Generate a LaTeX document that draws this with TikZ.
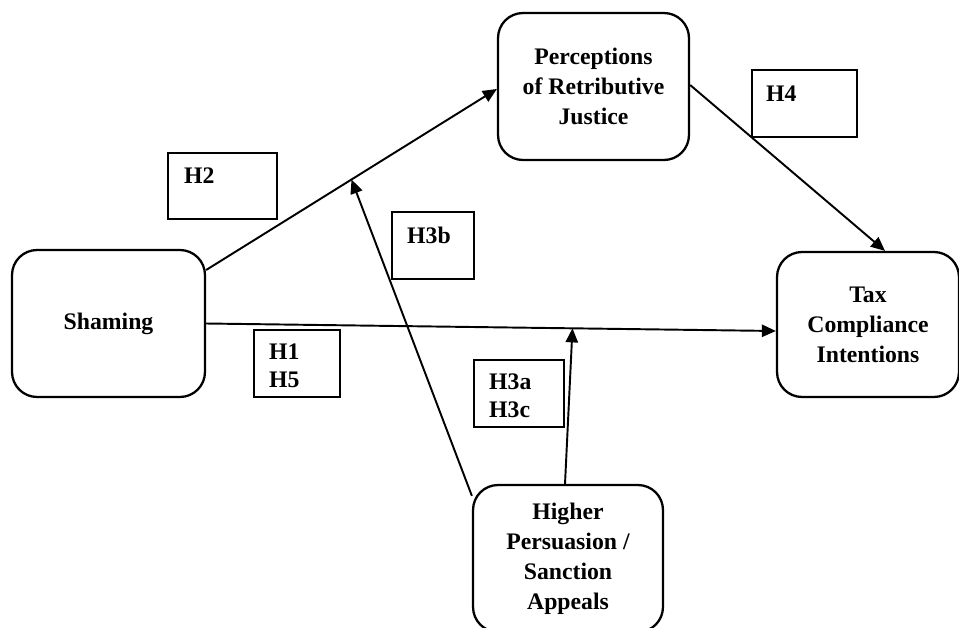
\documentclass[tikz,border=0pt]{standalone}
\usepackage{fontspec}
\setmainfont{Liberation Serif}
\usepackage{tikz}
\usetikzlibrary{arrows.meta, positioning}
\tikzstyle{construct} = [rectangle, rounded corners=0.5cm, line width=1.3pt, draw=black, align=center, font=\bfseries\fontsize{13.5}{17}\selectfont]
\tikzstyle{hypbox} = [rectangle, line width=1.3pt, draw=black, minimum height=1.34cm]
\tikzstyle{hyptext} = [anchor=north west, inner sep=0pt, align=left, font=\bfseries\fontsize{13.5}{15.5}\selectfont]
\tikzstyle{arrow} = [line width=1.1pt, -{Triangle[length=8pt,width=7pt]}]

\begin{document}
\begin{tikzpicture}[x=0.02cm, y=-0.02cm]
  \useasboundingbox (0,0) rectangle (959,628);

  \node (shaming) [construct, minimum width=3.86cm, minimum height=2.94cm] at (108.5,323.5) {Shaming};
  \node (perc) [construct, minimum width=3.82cm, minimum height=2.94cm] at (593.5,86.5) {Perceptions\\of Retributive\\Justice};
  \node (tax) [construct, minimum width=3.64cm, minimum height=2.9cm] at (868,324.5) {Tax\\Compliance\\Intentions};
  \node (appeals) [construct, minimum width=3.8cm, minimum height=2.94cm] at (568,558.5) {Higher\\Persuasion /\\Sanction\\Appeals};

  \node (hbox2) [hypbox, minimum width=2.18cm, minimum height=1.32cm] at (222.5,186) {};
  \node (hbox4) [hypbox, minimum width=2.1cm] at (804.5,103.5) {};
  \node (hbox3b) [hypbox, minimum width=1.64cm] at (433,245.5) {};
  \node (hbox15) [hypbox, minimum width=1.72cm] at (297,363.5) {};
  \node (hbox3ac) [hypbox, minimum width=1.8cm] at (519,393.5) {};

  \node (htext2) [hyptext] at ([xshift=0.34cm, yshift=-0.31cm]hbox2.north west) {H2};
  \node (htext4) [hyptext] at ([xshift=0.3cm, yshift=-0.34cm]hbox4.north west) {H4};
  \node (htext3b) [hyptext] at ([xshift=0.32cm, yshift=-0.32cm]hbox3b.north west) {H3b};
  \node (htext15) [hyptext] at ([xshift=0.32cm, yshift=-0.3cm]hbox15.north west) {H1\\H5};
  \node (htext3ac) [hyptext] at ([xshift=0.32cm, yshift=-0.3cm]hbox3ac.north west) {H3a\\H3c};

  \draw[arrow] ([yshift=1.07cm]shaming.east) -- coordinate[pos=0.5] (justmid) ([yshift=-0.05cm]perc.west);
  \draw[arrow] ([yshift=0.03cm]perc.east) -- ([xshift=0.34cm]tax.north);
  \draw[arrow] (shaming.east) -- coordinate[pos=0.643] (taxmid) ([yshift=-0.13cm]tax.west);
  \draw[arrow] ([yshift=-0.24cm]appeals.north west) -- (justmid);
  \draw[arrow] ([xshift=-0.06cm]appeals.north) -- (taxmid);
\end{tikzpicture}
\end{document}
